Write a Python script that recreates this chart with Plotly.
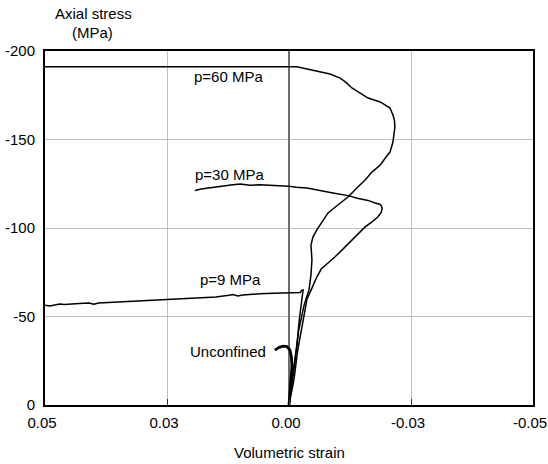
import plotly.graph_objects as go

# Volumetric strain (x) and axial stress in MPa (y)
unconf_x = [0.0, -0.0002, -0.0004, -0.0006, -0.0005, -0.0002, 0.0004, 0.0012, 0.0020, 0.0029]
unconf_y = [0.0, -7.0, -14.0, -22.0, -27.0, -31.0, -33.0, -33.3, -32.6, -31.0]

p9_x = [0.0, -0.0008, -0.0016, -0.0021, -0.0024, -0.0027, -0.0029, -0.0026, -0.0023,
        -0.0010, 0.0010, 0.0031, 0.0060, 0.0085, 0.0095, 0.0105, 0.0115, 0.0123, 0.0150,
        0.0180, 0.0210, 0.0250, 0.0290, 0.0320, 0.0345, 0.0370, 0.0390, 0.0400, 0.0410,
        0.0430, 0.0460, 0.0470, 0.0479, 0.0490, 0.0500]
p9_y = [0.0, -15.8, -32.8, -48.0, -56.0, -61.0, -65.0, -64.8, -63.6,
        -63.6, -63.4, -63.2, -62.8, -62.6, -62.1, -61.6, -62.4, -62.0, -61.0,
        -60.6, -60.2, -59.8, -59.2, -58.6, -58.4, -57.8, -57.6, -57.0, -57.6,
        -57.3, -56.8, -57.1, -56.6, -55.9, -56.4]

p30_x = [0.0, -0.0010, -0.0018, -0.0028, -0.0037, -0.0047, -0.0057, -0.0066, -0.0080,
         -0.0094, -0.0112, -0.0129, -0.0143, -0.0156, -0.0170, -0.0182, -0.0189,
         -0.0191, -0.0189, -0.0186, -0.0175, -0.0162, -0.0140, -0.0121, -0.0090,
         -0.0059, -0.0037, -0.0015, 0.0, 0.0030, 0.0060, 0.0080, 0.0100, 0.0115,
         0.0130, 0.0160, 0.0180, 0.0193]
p30_y = [0.0, -14.0, -31.1, -46.0, -59.9, -66.0, -72.3, -76.8, -80.0,
         -83.6, -88.5, -93.2, -97.0, -100.6, -103.5, -106.2, -108.8,
         -111.3, -112.6, -113.4, -114.3, -115.6, -116.8, -118.3, -119.8,
         -121.2, -122.6, -123.0, -123.6, -124.0, -124.4, -124.2, -124.9, -124.5,
         -124.0, -123.0, -122.0, -121.2]

p60_x = [0.0, -0.0010, -0.0020, -0.0031, -0.0041, -0.0045, -0.0047, -0.0045, -0.0049,
         -0.0057, -0.0068, -0.0080, -0.0100, -0.0121, -0.0139, -0.0156, -0.0170,
         -0.0187, -0.0199, -0.0207, -0.0213, -0.0217, -0.0216, -0.0213, -0.0207,
         -0.0187, -0.0162, -0.0146, -0.0129, -0.0118, -0.0105, -0.0084, -0.0066,
         -0.0049, -0.0030, -0.0016, 0.0, 0.0250, 0.0500]
p60_y = [0.0, -22.6, -42.4, -56.5, -65.0, -73.4, -81.9, -90.4, -94.9,
         -98.9, -103.4, -108.5, -113.0, -117.5, -122.6, -127.1, -131.6,
         -135.6, -140.1, -142.9, -148.6, -157.1, -161.0, -163.8, -167.8,
         -171.2, -173.4, -176.3, -179.1, -182.0, -184.7, -187.0, -188.2,
         -189.3, -190.4, -191.1, -191.1, -191.1, -191.1]

x_tickvals = [0.05, 0.025, 0.0, -0.025, -0.05]
x_ticktext = ["0.05", "0.03", "0.00", "-0.03", "-0.05"]
y_tickvals = [0, -50, -100, -150, -200]
y_ticktext = ["0", "-50", "-100", "-150", "-200"]

labels = ["p=60 MPa", "p=30 MPa", "p=9 MPa", "Unconfined"]
label_x = [0.0123, 0.0121, 0.0119, 0.0125]
label_y = [-185.5, -130.0, -70.8, -30.0]

FONT = "Liberation Sans, Arial, Helvetica, sans-serif"
FS = 15

fig = go.Figure()
for xs, ys, w in [(p60_x, p60_y, 1.5), (p30_x, p30_y, 1.5), (p9_x, p9_y, 1.5),
                  (unconf_x, unconf_y, 2.8)]:
    fig.add_trace(go.Scatter(x=xs, y=ys, mode="lines",
                             line=dict(color="black", width=w),
                             showlegend=False, hoverinfo="skip"))

for t, lx, ly in zip(labels, label_x, label_y):
    fig.add_annotation(x=lx, y=ly, xref="x", yref="y", text=t, showarrow=False,
                       xanchor="center", yanchor="middle",
                       font=dict(family=FONT, size=FS, color="black"))

fig.add_annotation(x=0.099, y=1.107, xref="paper", yref="paper", text="Axial stress",
                   showarrow=False, xanchor="center", yanchor="middle",
                   font=dict(family=FONT, size=FS, color="black"))
fig.add_annotation(x=0.098, y=1.051, xref="paper", yref="paper", text="(MPa)",
                   showarrow=False, xanchor="center", yanchor="middle",
                   font=dict(family=FONT, size=FS, color="black"))
fig.add_annotation(x=0.5, y=-0.133, xref="paper", yref="paper", text="Volumetric strain",
                   showarrow=False, xanchor="center", yanchor="middle",
                   font=dict(family=FONT, size=FS, color="black"))

fig.update_layout(
    width=548, height=464,
    margin=dict(l=45, r=15, t=51, b=59, autoexpand=False),
    paper_bgcolor="white", plot_bgcolor="white",
    font=dict(family=FONT, size=FS, color="black"),
    xaxis=dict(range=[0.05, -0.05], tickvals=x_tickvals, ticktext=x_ticktext,
               automargin=False, ticklabeloverflow="allow", ticklabelshift=3,
               showgrid=True, gridcolor="#c0c0c0", gridwidth=1,
               zeroline=True, zerolinecolor="#6e6e6e", zerolinewidth=2,
               showline=True, linecolor="black", linewidth=2, mirror=True,
               ticks="inside", ticklen=6, tickcolor="#333333", tickwidth=1,
               ticklabelstandoff=3,
               tickfont=dict(family=FONT, size=FS, color="black")),
    yaxis=dict(range=[0, -200], tickvals=y_tickvals, ticktext=y_ticktext,
               automargin=False, ticklabeloverflow="allow",
               showgrid=True, gridcolor="#c0c0c0", gridwidth=1,
               zeroline=False,
               showline=True, linecolor="black", linewidth=2, mirror=True,
               ticks="", ticklabelstandoff=5,
               tickfont=dict(family=FONT, size=FS, color="black")),
    yaxis2=dict(range=[0, -200], overlaying="y", anchor="free", position=0.5,
                automargin=False,
                side="left", tickvals=y_tickvals, showticklabels=False,
                ticks="inside", ticklen=6, tickcolor="black", tickwidth=1,
                showgrid=False, zeroline=False, showline=False),
)

fig.write_html("out.html")
